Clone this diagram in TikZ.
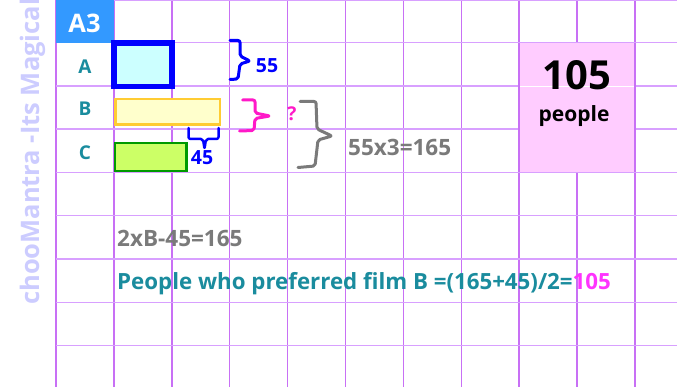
\documentclass[tikz,border=0pt]{standalone}
\usepackage{fontspec}
\setmainfont{Open Sans}
\definecolor{gridv}{HTML}{C870F5}
\definecolor{gridh}{HTML}{D8A0FF}
\definecolor{hdrblue}{HTML}{3399FF}
\definecolor{tealt}{HTML}{1A8C9E}
\definecolor{grayt}{HTML}{7A7A7A}
\definecolor{pinkfill}{HTML}{FFCCFF}
\definecolor{cyanfill}{HTML}{CCFFFF}
\definecolor{yelfill}{HTML}{FFFFCC}
\definecolor{yelline}{HTML}{FFCC33}
\definecolor{grnfill}{HTML}{CCFF66}
\definecolor{grnline}{HTML}{009900}
\definecolor{boxblue}{HTML}{0000FF}
\definecolor{pinkbr}{HTML}{FF19C8}
\definecolor{pinkt}{HTML}{FF33FF}
\definecolor{wmark}{HTML}{CCCCFF}
\tikzset{
  vline/.style={draw=gridv, line width=1.5pt},
  hline/.style={draw=gridh, line width=1.5pt},
  rowlab/.style={text=tealt, font=\fontsize{19}{21}\selectfont\bfseries, anchor=base, inner sep=0},
  bracebase/.style={line width=3pt, rounded corners=2pt, line cap=round, line join=round},
  txt/.style={inner sep=0, font=\bfseries},
  barbox/.style={inner sep=0, line width=2.5pt}
}
\begin{document}
\begin{tikzpicture}[x=1pt,y=-1pt]
\useasboundingbox (0,0) rectangle (677,387);
\fill[white] (0,0) rectangle (677,387);
% grid
\foreach \i in {0,...,10} {\draw[vline] (56+57.9*\i,0) -- (56+57.9*\i,387);}
\draw[hline] (56,0.5) -- (677,0.5);
\foreach \k in {1,...,8} {\draw[hline] (56,-0.5+43.25*\k) -- (677,-0.5+43.25*\k);}
% header cell
\fill[hdrblue] (56,0) rectangle (113.9,42.75);
\node[txt, text=white, anchor=base, font=\fontsize{25.5}{27}\selectfont\bfseries] (hdr) at (84.5,32.3) {A3};
% pink result box
\fill[pinkfill] (519.2,42.75) rectangle (635,172.5);
\draw[vline] (519.2,42.75) -- (519.2,172.5);
\draw[vline] (635,42.75) -- (635,172.5);
\draw[hline] (519.2,42.75) -- (635,42.75);
\draw[hline] (519.2,172.5) -- (635,172.5);
\draw[white, line width=0.8pt] (520,86.2) -- (634,86.2);
\node[txt, anchor=base, font=\fontsize{40}{42}\selectfont\bfseries] (res) at (577,89.3) {105};
\node[txt, anchor=base, font=\fontsize{21}{23}\selectfont\bfseries] (ppl) at (574,121.7) {people};
% watermark
\node[txt, text=wmark, rotate=90, anchor=base west, font=\fontsize{25.5}{27}\selectfont\bfseries] (wm) at (39.5,305) {chooMantra -Its Magical};
% row labels
\node[rowlab] (la) at (85,74) {A};
\node[rowlab] (lb) at (85,115.7) {B};
\node[rowlab] (lc) at (85,159.3) {C};
% bars
\node[draw=boxblue, line width=5.5pt, fill=cyanfill, inner sep=0, minimum width=58pt, minimum height=43.5pt] (ba) at (143,64.75) {};
\node[barbox, draw=yelline, fill=yelfill, minimum width=104.5pt, minimum height=25.5pt] (bb) at (167.5,112) {};
\node[barbox, draw=grnline, fill=grnfill, minimum width=71.2pt, minimum height=28.1pt] (bc) at (150.8,157) {};
% braces
\draw[bracebase, draw=boxblue] (230,40.5) -- (240,40.5) -- (240,56) -- (250,61) -- (240,64) -- (238,79) -- (230,79.5);
\node[txt, text=boxblue, anchor=base, font=\fontsize{19.5}{21}\selectfont\bfseries] (n55) at (267,72.7) {55};
\draw[bracebase, draw=pinkbr] (242.5,100) -- (255,100) -- (255,113) -- (270,116) -- (255,118.5) -- (254,130.5) -- (239.5,131);
\node[txt, text=pinkbr, anchor=base, font=\fontsize{19}{21}\selectfont\bfseries] (q) at (292,120.7) {?};
\draw[bracebase, draw=grayt] (300,101.5) -- (316,101.5) -- (317,129) -- (332,136) -- (318,140) -- (315,166) -- (298,167.5);
\node[txt, text=grayt, anchor=base west, font=\fontsize{22.5}{24}\selectfont\bfseries] (eq1) at (348,156) {55x3=165};
\draw[bracebase, line width=2.5pt, draw=boxblue] (188.5,128) -- (188.5,139) -- (203,139) -- (204.5,149) -- (206,139) -- (218.5,139) -- (218.5,128);
\node[txt, text=boxblue, anchor=base, font=\fontsize{19.5}{21}\selectfont\bfseries] (n45) at (202,165) {45};
% equations
\node[txt, text=grayt, anchor=base west, font=\fontsize{22.5}{24}\selectfont\bfseries] (eq2) at (117,246.7) {2xB-45=165};
\node[txt, text=tealt, anchor=base west, font=\fontsize{22.3}{24}\selectfont\bfseries] (eq3) at (117,290) {People who preferred film B =(165+45)/2=\textcolor{pinkt}{105}};
\end{tikzpicture}
\end{document}
